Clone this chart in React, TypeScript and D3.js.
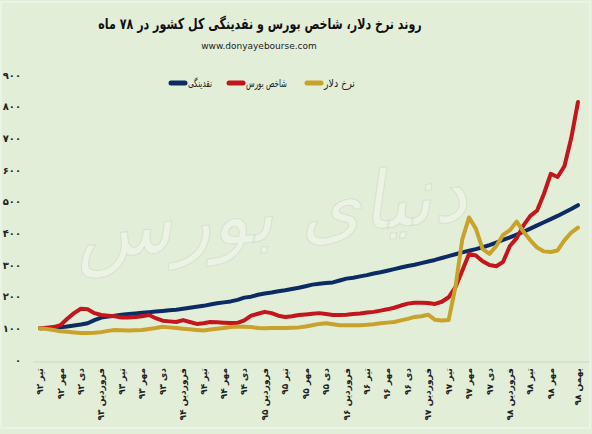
import * as d3 from "d3";

const W = 592;
const H = 434;

// 80 months, from تیر ۹۲ to بهمن ۹۸ (index base = 100)
const liquidity = [
  100, 101, 102, 103, 106, 109, 112, 116, 126, 134,
  137, 140, 143, 145, 147, 149, 151, 153, 155, 157,
  159, 162, 165, 168, 171, 175, 179, 182, 185, 190,
  197, 200, 206, 210, 213, 217, 220, 224, 228, 233,
  238, 241, 243, 245, 251, 257, 260, 264, 268, 273,
  277, 282, 287, 292, 297, 301, 306, 311, 316, 322,
  328, 334, 340, 345, 350, 356, 363, 371, 379, 387,
  396, 405, 415, 425, 435, 445, 455, 466, 477, 489,
];

const stockIndex = [
  100, 102, 104, 110, 130, 148, 162, 160, 148, 142,
  140, 138, 134, 134, 136, 138, 142, 132, 124, 122,
  120, 126, 120, 114, 116, 120, 119, 118, 117, 117,
  125, 140, 146, 152, 148, 140, 136, 138, 142, 144,
  146, 148, 145, 142, 142, 143, 145, 147, 150, 152,
  156, 160, 165, 172, 178, 181, 181, 180, 177, 184,
  198, 230, 282, 335, 330, 312, 300, 296, 310, 360,
  385, 425, 455, 472, 525, 588, 578, 612, 700, 815,
];

const dollarRate = [
  100, 98, 95, 91, 89, 87, 85, 85, 86, 88,
  92, 95, 94, 93, 94, 95, 98, 101, 105, 103,
  101, 99, 97, 95, 93, 96, 99, 101, 104, 106,
  105, 104, 101, 100, 101, 101, 101, 102, 103, 106,
  110, 114, 116, 113, 110, 110, 110, 110, 111, 113,
  116, 118, 120, 125, 130, 136, 138, 143, 127, 125,
  126, 230, 380, 450, 415, 350, 335, 360, 395, 410,
  437, 405, 378, 355, 343, 341, 346, 378, 402, 418,
];

const seriesNames = ["نقدینگی", "شاخص بورس", "نرخ دلار"];
const seriesColors = ["#0c2b63", "#c3161c", "#c9a22b"];
const seriesData = [liquidity, stockIndex, dollarRate];

const yTicks = [0, 100, 200, 300, 400, 500, 600, 700, 800, 900];

const xTickIndex = [...d3.range(0, 76, 3), 79];
const xTickLabels = [
  "تیر ۹۲", "مهر ۹۲", "دی ۹۲", "فروردین ۹۳",
  "تیر ۹۳", "مهر ۹۳", "دی ۹۳", "فروردین ۹۴",
  "تیر ۹۴", "مهر ۹۴", "دی ۹۴", "فروردین ۹۵",
  "تیر ۹۵", "مهر ۹۵", "دی ۹۵", "فروردین ۹۶",
  "تیر ۹۶", "مهر ۹۶", "دی ۹۶", "فروردین ۹۷",
  "تیر ۹۷", "مهر ۹۷", "دی ۹۷", "فروردین ۹۸",
  "تیر ۹۸", "مهر ۹۸", "بهمن ۹۸",
];

const TITLE = "روند نرخ دلار، شاخص بورس و نقدینگی کل کشور در ۷۸ ماه";
const SUBTITLE = "www.donyayebourse.com";
const WATERMARK = "دنیای بورس";

const FONT = "'DejaVu Sans', sans-serif";
const BG = "#e3eed9";

const PLOT = { left: 40, right: 578, top: 75, bottom: 360 };

// legend: swatch start x, text start x, text width
const LEGEND_POS = [
  { swatch: 169, text: 188, width: 24 },
  { swatch: 227, text: 246, width: 41 },
  { swatch: 305, text: 324, width: 31 },
];

const persianDigits = (s: string) =>
  s.replace(/\d/g, (d) => "۰۱۲۳۴۵۶۷۸۹"[+d]);

export default function App() {
  const x = d3
    .scaleLinear()
    .domain([0, liquidity.length - 1])
    .range([PLOT.left, PLOT.right]);
  const y = d3.scaleLinear().domain([0, 900]).range([PLOT.bottom, PLOT.top]);

  const line = d3
    .line<number>()
    .x((_, i) => x(i))
    .y((d) => y(d))
    .curve(d3.curveLinear);

  return (
    <svg
      width={W}
      height={H}
      style={{ position: "absolute", left: 0, top: 0 }}
      xmlns="http://www.w3.org/2000/svg"
    >
      <rect x={0} y={0} width={W} height={H} fill={BG} />
      <rect
        x={1}
        y={2}
        width={W - 3}
        height={H - 8}
        fill="none"
        stroke="#eef4ea"
        strokeWidth={1.5}
      />

      {/* title, squeezed to the narrow font width of the original */}
      <g transform="translate(260,29) scale(0.74,1)">
        <text
          x={0}
          y={0}
          direction="rtl"
          textAnchor="middle"
          fontFamily={FONT}
          fontWeight="bold"
          fontSize={15}
          fill="#111"
        >
          {TITLE}
        </text>
      </g>
      <text
        x={259}
        y={49}
        textAnchor="middle"
        fontFamily={FONT}
        fontSize={9}
        fill="#222"
      >
        {SUBTITLE}
      </text>

      {/* legend */}
      <g className="legend">
        {seriesNames.map((name, i) => (
          <g key={name}>
            <line
              x1={LEGEND_POS[i].swatch + 2}
              x2={LEGEND_POS[i].swatch + 16}
              y1={83}
              y2={83}
              stroke={seriesColors[i]}
              strokeWidth={5}
              strokeLinecap="round"
            />
            <text
              x={LEGEND_POS[i].text}
              y={87}
              fontFamily={FONT}
              fontSize={11}
              textLength={LEGEND_POS[i].width}
              lengthAdjust="spacingAndGlyphs"
              fill="#222"
            >
              {name}
            </text>
          </g>
        ))}
      </g>

      {/* y axis labels */}
      <g className="y-axis">
        {yTicks.map((t) => (
          <text
            key={t}
            x={21}
            y={y(t)}
            dy="0.35em"
            textAnchor="end"
            fontFamily={FONT}
            fontWeight="bold"
            fontSize={10}
            fill="#222"
          >
            {persianDigits(String(t))}
          </text>
        ))}
      </g>

      {/* x axis */}
      <line
        x1={33}
        x2={590}
        y1={y(0) + 2}
        y2={y(0) + 2}
        stroke="#cdd8c5"
        strokeWidth={1}
      />
      <g className="x-axis">
        {xTickIndex.map((idx, i) => (
          <text
            key={idx}
            transform={`translate(${x(idx)},368) rotate(-90)`}
            dy="0.35em"
            textAnchor="end"
            fontFamily={FONT}
            fontWeight="bold"
            fontSize={9}
            fill="#222"
          >
            {xTickLabels[i]}
          </text>
        ))}
      </g>

      {/* series */}
      <g className="series">
        {seriesData.map((data, i) => (
          <path
            key={seriesNames[i]}
            d={line(data) ?? undefined}
            fill="none"
            stroke={seriesColors[i]}
            strokeWidth={4}
            strokeLinejoin="round"
            strokeLinecap="round"
          />
        ))}
      </g>

      {/* watermark */}
      <text
        x={270}
        y={240}
        textAnchor="middle"
        fontFamily={FONT}
        fontSize={80}
        fontStyle="italic"
        fill="#ffffff"
        fillOpacity={0.32}
        stroke="#b9c6af"
        strokeOpacity={0.35}
        strokeWidth={1}
        transform="rotate(-6 270 210)"
      >
        {WATERMARK}
      </text>
    </svg>
  );
}
